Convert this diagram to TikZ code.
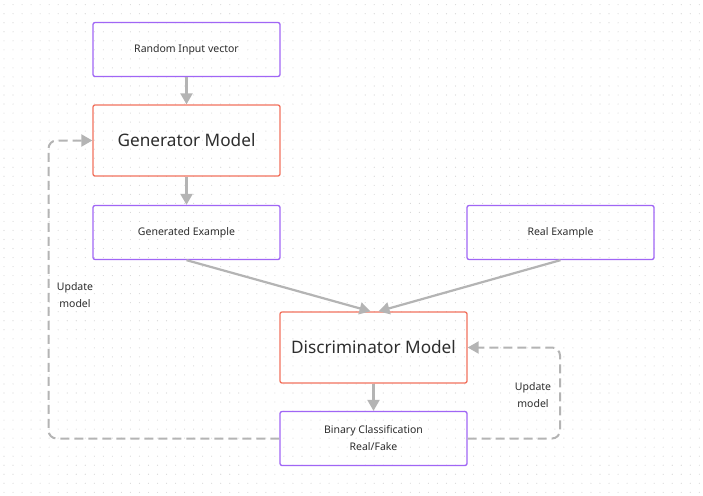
\documentclass[tikz,border=0pt]{standalone}
\usepackage{fontspec}
\setmainfont{Noto Sans}
\usetikzlibrary{arrows.meta,calc}
\definecolor{boxpurple}{HTML}{A066F5}
\definecolor{boxred}{HTML}{F2735F}
\definecolor{arrgray}{HTML}{B4B4B4}
\definecolor{txtgray}{HTML}{2E2E2E}
\definecolor{dotgray}{HTML}{D6D6D6}
\begin{document}
\begin{tikzpicture}[x=1pt,y=-1pt,
  smallbox/.style={draw=boxpurple,line width=1.3pt,rounded corners=2pt,fill=none,
    minimum width=187pt,minimum height=54pt,inner sep=0pt,align=center,
    font=\fontsize{10.5}{17}\selectfont,text=txtgray},
  bigbox/.style={draw=boxred,line width=1.3pt,rounded corners=2pt,fill=none,
    minimum width=187pt,minimum height=71pt,inner sep=0pt,
    font=\fontsize{17.2}{22}\selectfont,text=txtgray},
  flow/.style={draw=arrgray,line width=2.2pt,-{Triangle[length=11pt,width=12pt]}},
  loop/.style={draw=arrgray,line width=2pt,dash pattern=on 9pt off 5pt,rounded corners=8pt,
    -{Triangle[length=11pt,width=12pt]}},
  lbl/.style={align=center,font=\fontsize{10.5}{17}\selectfont,text=txtgray,inner sep=0pt}]
\useasboundingbox (0,0) rectangle (703,495);
\fill[white] (0,0) rectangle (703,495);
\foreach \i in {0,...,77}{
  \foreach \j in {0,...,54}{
    \fill[dotgray] ({4+9.03*\i},{4.7+9.03*\j}) circle (0.55pt);
  }
}
\node[smallbox] (rin) at (186.5,49.5) {Random Input vector};
\node[bigbox] (gen) at (186.5,140.5) {Generator Model};
\node[smallbox] (gex) at (186.5,232.5) {Generated Example};
\node[smallbox] (rex) at (560.5,232.5) {Real Example};
\node[bigbox] (dis) at (373.5,347.5) {Discriminator Model};
\node[smallbox] (bin) at (373.5,438.5) {Binary Classification\\Real/Fake};
\coordinate (d1) at ($(dis.north)+(-3,0)$);
\coordinate (d2) at ($(dis.north)+(5,0)$);
\coordinate (lx) at (48.5,0);
\coordinate (rx) at (560,0);
\draw[flow] (rin) -- (gen);
\draw[flow] (gen) -- (gex);
\draw[flow] (gex.south) -- (d1);
\draw[flow] (rex.south) -- (d2);
\draw[flow] (dis) -- (bin);
\draw[loop] (bin.west) -| (lx |- gen.west) -- (gen.west);
\draw[loop] (bin.east) -| (rx |- dis.east) -- (dis.east);
\node[lbl] (ul) at (75,295.5) {Update\\model};
\node[lbl] (ur) at (533,395.5) {Update\\model};
\end{tikzpicture}
\end{document}
